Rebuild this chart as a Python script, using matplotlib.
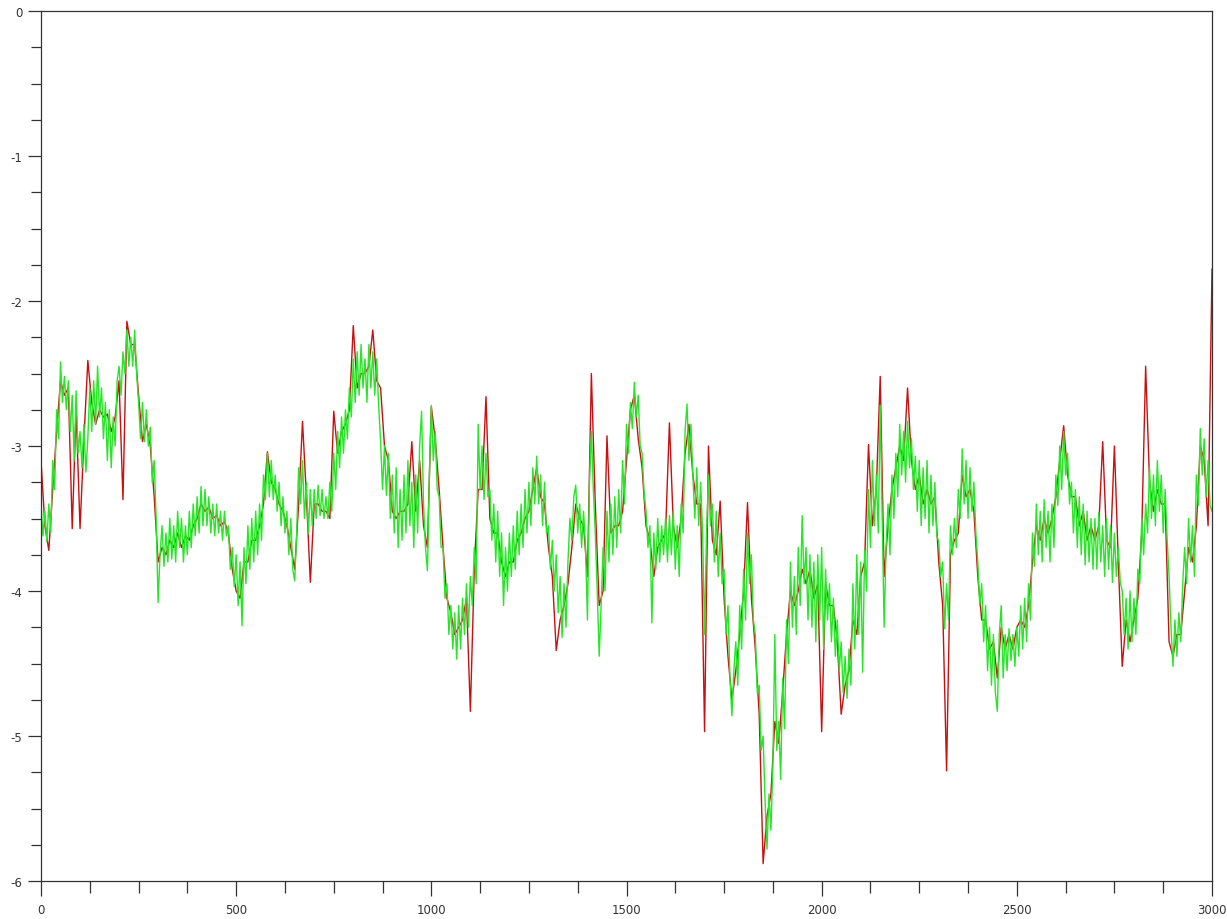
import numpy as np
import matplotlib
matplotlib.use("Agg")
import matplotlib.pyplot as plt
from matplotlib.ticker import MultipleLocator

# sample positions
green_x = np.arange(0, 3001, 5)    # green read every 5 samples
red_x = np.arange(0, 3001, 10)     # red read every 10 samples

# green series (every 5 samples; one row = 100 samples)
green_y = [
    -3.40, -3.62, -3.45, -3.66, -3.40, -3.60, -3.10, -3.30, -2.75, -2.95, -2.42, -2.70, -2.52, -2.75, -2.55, -2.90, -2.65, -3.10, -2.62, -3.05,
    -2.90, -3.15, -2.85, -3.18, -2.95, -2.60, -2.90, -2.55, -2.85, -2.45, -2.80, -2.60, -2.95, -2.70, -3.10, -2.75, -3.15, -2.80, -3.00, -2.55,
    -2.45, -2.65, -2.35, -2.50, -2.20, -2.45, -2.25, -2.45, -2.20, -2.50, -2.70, -2.95, -2.70, -2.97, -2.75, -3.00, -2.87, -3.25, -3.10, -3.50,
    -4.08, -3.75, -3.55, -3.83, -3.60, -3.80, -3.50, -3.78, -3.55, -3.80, -3.45, -3.70, -3.50, -3.80, -3.55, -3.75, -3.45, -3.70, -3.40, -3.62,
    -3.35, -3.60, -3.28, -3.55, -3.30, -3.55, -3.35, -3.60, -3.40, -3.62, -3.40, -3.60, -3.45, -3.65, -3.45, -3.62, -3.55, -3.85, -3.70, -3.97,
    -3.75, -4.10, -3.80, -4.24, -3.70, -3.95, -3.55, -3.85, -3.50, -3.80, -3.45, -3.75, -3.40, -3.65, -3.20, -3.37, -3.05, -3.35, -3.10, -3.37,
    -3.20, -3.45, -3.25, -3.55, -3.35, -3.60, -3.45, -3.75, -3.50, -3.85, -3.93, -3.60, -3.15, -3.40, -3.10, -3.50, -3.25, -3.60, -3.30, -3.55,
    -3.30, -3.50, -3.27, -3.48, -3.30, -3.50, -3.35, -3.50, -3.25, -3.45, -3.05, -3.30, -2.90, -3.15, -2.80, -3.05, -2.75, -2.95, -2.60, -2.80,
    -2.40, -2.70, -2.35, -2.65, -2.30, -2.60, -2.40, -2.70, -2.30, -2.60, -2.35, -2.65, -2.40, -2.72, -2.97, -3.30, -3.00, -3.34, -3.05, -3.50,
    -3.20, -3.60, -3.15, -3.70, -3.30, -3.65, -3.20, -3.60, -3.10, -3.55, -3.25, -3.70, -3.20, -3.60, -3.00, -2.76, -3.40, -3.70, -3.86, -3.20,
    -2.72, -3.10, -2.90, -3.30, -3.35, -3.70, -3.70, -4.05, -3.95, -4.30, -4.10, -4.40, -4.15, -4.47, -4.10, -4.40, -4.05, -4.30, -3.95, -4.25,
    -3.90, -4.10, -3.70, -3.95, -2.85, -3.30, -3.00, -3.37, -3.05, -3.35, -3.30, -3.65, -3.40, -3.80, -3.45, -3.90, -3.60, -4.10, -3.70, -4.00,
    -3.60, -3.90, -3.55, -3.85, -3.45, -3.75, -3.40, -3.70, -3.30, -3.60, -3.25, -3.55, -3.15, -3.40, -3.07, -3.40, -3.20, -3.55, -3.25, -3.60,
    -3.55, -3.85, -3.65, -4.00, -3.75, -4.15, -3.90, -4.32, -3.95, -4.25, -3.80, -3.50, -3.65, -3.35, -3.27, -3.60, -3.40, -3.70, -3.45, -3.70,
    -4.20, -3.25, -2.90, -3.30, -3.60, -4.00, -4.45, -4.10, -3.70, -4.00, -3.45, -3.80, -3.40, -3.75, -3.35, -3.70, -3.30, -3.60, -3.10, -3.40,
    -2.85, -3.05, -2.70, -2.88, -2.56, -2.80, -2.65, -3.00, -3.05, -3.32, -3.45, -3.70, -3.55, -4.22, -3.60, -3.85, -3.50, -3.80, -3.55, -3.75,
    -3.50, -3.80, -3.48, -3.75, -3.45, -3.85, -3.55, -3.90, -3.40, -3.60, -2.90, -2.71, -3.10, -2.85, -3.20, -3.50, -3.15, -3.55, -3.25, -3.60,
    -4.30, -3.60, -3.20, -3.55, -3.40, -3.80, -3.45, -3.90, -3.60, -3.95, -3.85, -4.30, -4.10, -4.60, -4.86, -4.55, -4.35, -4.65, -4.10, -4.40,
    -3.85, -4.20, -3.60, -3.95, -3.75, -4.20, -4.30, -4.70, -4.65, -5.10, -5.00, -5.45, -5.78, -5.40, -5.65, -5.20, -4.30, -5.10, -4.90, -5.30,
    -4.60, -4.95, -4.20, -4.50, -3.80, -4.25, -3.90, -4.30, -3.70, -4.10, -3.48, -3.95, -3.70, -4.20, -3.75, -4.25, -3.80, -4.35, -3.75, -4.20,
    -3.70, -4.40, -3.85, -4.20, -3.95, -4.35, -4.05, -4.45, -4.20, -4.55, -4.35, -4.70, -4.45, -4.74, -4.40, -4.65, -3.95, -4.40, -3.75, -4.30,
    -3.80, -4.56, -3.72, -4.00, -3.30, -3.70, -3.10, -3.55, -3.20, -3.60, -2.72, -3.50, -4.25, -3.70, -3.40, -3.75, -3.20, -3.50, -3.05, -3.35,
    -2.85, -3.20, -2.90, -3.25, -2.83, -3.15, -2.95, -3.30, -3.07, -3.45, -3.10, -3.55, -3.15, -3.50, -3.10, -3.60, -3.20, -3.55, -3.25, -3.62,
    -3.66, -3.90, -3.80, -4.26, -3.95, -4.20, -3.55, -3.75, -3.50, -3.70, -3.30, -3.50, -3.02, -3.40, -3.10, -3.50, -3.15, -3.45, -3.25, -3.60,
    -3.80, -4.10, -3.95, -4.35, -4.10, -4.55, -4.25, -4.65, -4.30, -4.70, -4.83, -4.30, -4.10, -4.60, -4.30, -4.55, -4.26, -4.48, -4.30, -4.52,
    -4.25, -4.45, -4.10, -4.40, -4.05, -4.35, -3.95, -4.20, -3.60, -3.83, -3.40, -3.75, -3.45, -3.80, -3.37, -3.70, -3.45, -3.80, -3.40, -3.70,
    -3.20, -3.41, -3.00, -3.30, -2.90, -3.20, -3.05, -3.40, -3.25, -3.60, -3.30, -3.70, -3.35, -3.75, -3.40, -3.82, -3.45, -3.80, -3.50, -3.85,
    -3.50, -3.85, -3.46, -3.80, -3.55, -3.90, -3.50, -3.85, -3.55, -3.94, -3.60, -3.90, -3.70, -3.94, -4.00, -4.30, -4.05, -4.40, -4.00, -4.35,
    -4.05, -4.30, -3.85, -3.95, -3.50, -3.75, -3.40, -3.60, -3.15, -3.50, -3.20, -3.55, -3.10, -3.45, -3.20, -3.60, -3.30, -3.64, -3.90, -4.25,
    -4.52, -4.20, -4.45, -4.15, -4.35, -3.95, -3.70, -3.95, -3.50, -3.80, -3.55, -3.90, -3.20, -3.41, -2.88, -3.20, -2.95, -3.35, -3.10, -3.41,
    -3.45,
]

# red series (every 10 samples; one row = 100 samples)
red_y = [
    -3.10, -3.55, -3.72, -3.30, -2.90, -2.55, -2.65, -2.60, -3.57, -2.75,
    -3.57, -2.95, -2.41, -2.70, -2.85, -2.75, -2.80, -2.78, -2.90, -2.80,
    -2.55, -3.37, -2.14, -2.30, -2.30, -2.65, -2.97, -2.85, -3.00, -3.35,
    -3.80, -3.70, -3.75, -3.65, -3.70, -3.60, -3.70, -3.62, -3.65, -3.55,
    -3.50, -3.40, -3.45, -3.42, -3.50, -3.48, -3.55, -3.52, -3.60, -3.85,
    -4.00, -4.05, -3.80, -3.80, -3.65, -3.65, -3.55, -3.40, -3.04, -3.25,
    -3.30, -3.40, -3.45, -3.55, -3.70, -3.85, -3.40, -2.83, -3.35, -3.94,
    -3.40, -3.40, -3.45, -3.45, -3.50, -2.76, -3.05, -2.90, -2.85, -2.75,
    -2.17, -2.60, -2.50, -2.50, -2.45, -2.20, -2.55, -2.60, -3.00, -3.10,
    -3.45, -3.50, -3.45, -3.45, -3.40, -2.97, -3.45, -3.10, -3.55, -3.70,
    -2.73, -2.95, -3.30, -3.70, -4.05, -4.15, -4.30, -4.25, -4.20, -4.05,
    -4.83, -3.85, -3.30, -3.30, -2.66, -3.50, -3.60, -3.60, -3.80, -3.90,
    -3.80, -3.80, -3.65, -3.60, -3.50, -3.45, -3.30, -3.15, -3.35, -3.40,
    -3.70, -3.90, -4.41, -4.20, -4.10, -3.95, -3.70, -3.40, -3.50, -3.55,
    -3.90, -2.50, -3.40, -4.10, -4.00, -2.93, -3.60, -3.55, -3.55, -3.45,
    -3.10, -2.75, -2.65, -2.95, -3.15, -3.55, -3.65, -3.90, -3.70, -3.65,
    -3.60, -2.84, -3.55, -3.70, -3.50, -3.05, -2.85, -3.20, -3.40, -3.40,
    -4.97, -3.00, -3.65, -3.75, -3.38, -4.05, -4.45, -4.75, -4.55, -4.30,
    -4.00, -3.39, -4.05, -4.40, -4.85, -5.88, -5.55, -5.40, -4.90, -5.05,
    -4.70, -4.30, -4.00, -4.10, -4.00, -3.85, -3.95, -3.85, -4.05, -3.95,
    -4.97, -3.95, -4.10, -4.10, -4.35, -4.85, -4.65, -4.55, -4.20, -4.30,
    -3.90, -3.80, -2.99, -3.55, -3.30, -2.52, -3.90, -3.55, -3.30, -3.15,
    -3.00, -3.10, -2.60, -3.10, -3.30, -3.20, -3.40, -3.30, -3.40, -3.35,
    -3.80, -4.10, -5.24, -3.75, -3.65, -3.60, -3.20, -3.35, -3.30, -3.45,
    -3.90, -4.20, -4.20, -4.40, -4.35, -4.60, -4.25, -4.40, -4.30, -4.40,
    -4.25, -4.20, -4.25, -4.10, -3.80, -3.55, -3.65, -3.50, -3.60, -3.50,
    -3.35, -3.10, -2.86, -3.20, -3.35, -3.35, -3.55, -3.45, -3.65, -3.55,
    -3.65, -3.55, -2.97, -3.65, -3.70, -3.00, -3.80, -4.52, -4.20, -4.35,
    -4.20, -4.05, -3.60, -2.45, -3.25, -3.45, -3.30, -3.40, -3.40, -4.35,
    -4.45, -4.30, -4.30, -4.00, -3.70, -3.80, -3.55, -3.00, -3.10, -3.55,
    -1.78,
]

x_major_ticks = [0, 500, 1000, 1500, 2000, 2500, 3000]
x_tick_labels = ["0", "500", "1000", "1500", "2000", "2500", "3000"]
y_major_ticks = [-6, -5, -4, -3, -2, -1, 0]
y_tick_labels = ["-6", "-5", "-4", "-3", "-2", "-1", "0"]

assert len(green_y) == len(green_x), len(green_y)
assert len(red_y) == len(red_x), len(red_y)

fig = plt.figure(figsize=(12.27, 9.20), dpi=100)
ax = fig.add_axes([41 / 1227, 38 / 920, 1171 / 1227, 870 / 920])

ax.plot(red_x, red_y, color="#c81010", lw=1.0)
ax.plot(green_x, green_y, color="#26e626", lw=1.0)

ax.set_xlim(0, 3000)
ax.set_ylim(-6, 0)
ax.set_xticks(x_major_ticks)
ax.set_xticklabels(x_tick_labels)
ax.set_yticks(y_major_ticks)
ax.set_yticklabels(y_tick_labels)
ax.xaxis.set_minor_locator(MultipleLocator(125))
ax.yaxis.set_minor_locator(MultipleLocator(0.25))

ax.tick_params(which="both", direction="out", color="#333333", width=0.9,
               labelsize=8.5, labelcolor="#333333")
ax.tick_params(axis="x", which="major", length=11, pad=5)
ax.tick_params(axis="x", which="minor", length=8.5)
ax.tick_params(axis="y", which="major", length=9.5, pad=4)
ax.tick_params(axis="y", which="minor", length=7.5)
ax.tick_params(top=False, right=False, which="both")

for s in ax.spines.values():
    s.set_color("#333333")
    s.set_linewidth(0.9)

fig.savefig("out.png", dpi=100)
